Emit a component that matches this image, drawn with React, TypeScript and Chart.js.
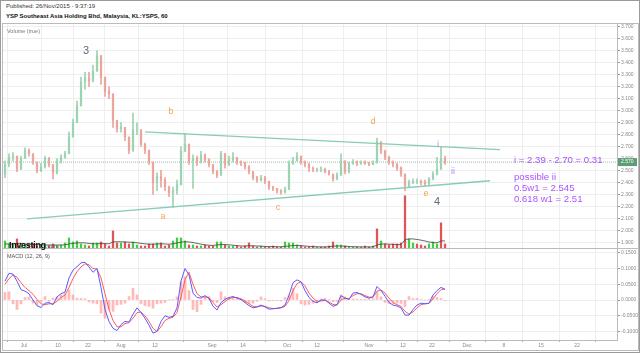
import React, { useEffect, useRef } from "react";
import { Chart, registerables } from "chart.js";
Chart.register(...registerables);

const FONT = "'Liberation Sans', Arial, sans-serif";

// ---- price data (hourly candles, sampled) ----
const firstOpen = 2.47;
const closes = [
  2.55, 2.61, 2.62, 2.51, 2.60, 2.67, 2.64, 2.57, 2.50, 2.53,
  2.60, 2.55, 2.48, 2.58, 2.61, 2.64, 2.78, 2.90, 3.04, 3.24,
  3.27, 3.25, 3.33, 3.46, 3.28, 3.16, 3.14, 2.92, 2.85, 2.86,
  2.78, 2.67, 2.84, 2.84, 2.72, 2.67, 2.57, 2.40, 2.45, 2.42,
  2.36, 2.31, 2.33, 2.38, 2.66, 2.72, 2.58, 2.60, 2.57, 2.63,
  2.59, 2.55, 2.49, 2.46, 2.64, 2.55, 2.59, 2.61, 2.57, 2.56,
  2.53, 2.49, 2.44, 2.42, 2.44, 2.41, 2.36, 2.35, 2.33, 2.32,
  2.34, 2.56, 2.58, 2.62, 2.57, 2.55, 2.52, 2.51, 2.51, 2.51,
  2.49, 2.47, 2.43, 2.46, 2.58, 2.49, 2.56, 2.57, 2.56, 2.57,
  2.56, 2.55, 2.57, 2.74, 2.66, 2.61, 2.57, 2.55, 2.52, 2.47,
  2.37, 2.40, 2.41, 2.41, 2.40, 2.39, 2.43, 2.47, 2.51, 2.60,
  2.57,
];
const highs = [
  2.58, 2.64, 2.65, 2.60, 2.62, 2.69, 2.68, 2.64, 2.57, 2.56,
  2.62, 2.61, 2.55, 2.60, 2.63, 2.66, 2.82, 2.93, 3.08, 3.28,
  3.32, 3.32, 3.38, 3.50, 3.46, 3.28, 3.20, 3.08, 2.92, 2.90,
  2.86, 2.78, 2.98, 2.90, 2.84, 2.73, 2.67, 2.57, 2.48, 2.50,
  2.44, 2.37, 2.36, 2.42, 2.70, 2.81, 2.72, 2.63, 2.62, 2.66,
  2.64, 2.60, 2.55, 2.50, 2.66, 2.64, 2.62, 2.65, 2.61, 2.58,
  2.57, 2.54, 2.49, 2.45, 2.46, 2.45, 2.41, 2.37, 2.35, 2.34,
  2.36, 2.58, 2.61, 2.65, 2.62, 2.58, 2.56, 2.53, 2.52, 2.53,
  2.52, 2.50, 2.47, 2.48, 2.64, 2.58, 2.57, 2.59, 2.58, 2.58,
  2.58, 2.57, 2.58, 2.77, 2.74, 2.67, 2.62, 2.58, 2.56, 2.53,
  2.47, 2.42, 2.43, 2.43, 2.42, 2.42, 2.44, 2.49, 2.61, 2.70,
  2.62,
];
const lows = [
  2.44, 2.53, 2.58, 2.49, 2.52, 2.60, 2.62, 2.55, 2.48, 2.49,
  2.52, 2.53, 2.43, 2.47, 2.56, 2.60, 2.64, 2.78, 2.90, 3.04,
  3.18, 3.20, 3.24, 3.33, 3.22, 3.12, 3.10, 2.86, 2.82, 2.82,
  2.75, 2.64, 2.66, 2.80, 2.70, 2.64, 2.55, 2.30, 2.33, 2.36,
  2.33, 2.28, 2.19, 2.30, 2.38, 2.66, 2.55, 2.35, 2.54, 2.56,
  2.57, 2.53, 2.47, 2.44, 2.46, 2.52, 2.54, 2.57, 2.55, 2.54,
  2.51, 2.47, 2.42, 2.40, 2.41, 2.39, 2.34, 2.33, 2.31, 2.30,
  2.31, 2.34, 2.55, 2.58, 2.55, 2.53, 2.49, 2.49, 2.49, 2.49,
  2.48, 2.46, 2.41, 2.42, 2.46, 2.47, 2.48, 2.55, 2.54, 2.55,
  2.55, 2.54, 2.55, 2.56, 2.64, 2.59, 2.55, 2.53, 2.50, 2.45,
  2.33, 2.36, 2.39, 2.39, 2.38, 2.37, 2.38, 2.42, 2.46, 2.51,
  2.55,
];
const volumes = [
  800, 500, 400, 1000, 300, 400, 300, 500, 300, 400,
  400, 300, 500, 300, 400, 600, 1100, 700, 800, 500,
  400, 300, 600, 600, 700, 500, 300, 1800, 600, 600,
  700, 500, 700, 400, 300, 300, 500, 500, 600, 600,
  300, 400, 800, 1100, 1100, 800, 400, 400, 300, 300,
  400, 300, 300, 700, 700, 400, 300, 300, 300, 200,
  300, 600, 300, 200, 300, 200, 200, 300, 200, 200,
  700, 600, 600, 400, 300, 200, 200, 300, 200, 200,
  200, 300, 700, 400, 400, 300, 200, 200, 200, 200,
  300, 200, 300, 2000, 800, 500, 400, 500, 500, 600,
  5300, 1000, 600, 500, 400, 300, 500, 700, 500, 2600,
  500,
];
// 1 = buying (green) volume, 0 = selling (red) volume
const volumeUp = [
  1, 1, 1, 0, 1, 1, 0, 0, 0, 1,
  1, 0, 0, 1, 1, 1, 1, 1, 1, 1,
  1, 0, 1, 1, 0, 0, 0, 0, 0, 1,
  0, 0, 1, 1, 0, 0, 0, 0, 1, 0,
  0, 0, 1, 1, 1, 1, 0, 1, 0, 1,
  0, 0, 0, 1, 1, 0, 1, 1, 0, 0,
  0, 0, 0, 0, 1, 0, 0, 0, 0, 0,
  1, 1, 1, 1, 0, 0, 0, 0, 1, 0,
  0, 0, 0, 1, 1, 0, 1, 1, 0, 1,
  0, 0, 1, 0, 1, 0, 0, 0, 0, 0,
  0, 1, 1, 0, 0, 0, 1, 1, 1, 0,
  0,
];
const volumeAvg = [
  500, 500, 500, 550, 550, 500, 450, 450, 450, 420,
  400, 400, 400, 400, 400, 420, 500, 560, 600, 620,
  600, 560, 520, 520, 540, 540, 520, 700, 720, 720,
  700, 680, 660, 620, 560, 520, 480, 480, 500, 520,
  500, 480, 520, 600, 680, 720, 700, 640, 560, 480,
  420, 380, 360, 400, 440, 440, 420, 380, 340, 300,
  300, 320, 320, 300, 280, 260, 240, 240, 230, 220,
  260, 300, 340, 360, 340, 300, 260, 240, 220, 210,
  210, 230, 280, 300, 300, 280, 250, 230, 220, 210,
  210, 210, 220, 400, 480, 500, 480, 460, 450, 460,
  900, 1000, 1000, 950, 880, 800, 700, 650, 620, 800,
  800,
];

// ---- MACD (12, 26, 9) ----
const macdLine = [
  0.060, 0.085, 0.082, 0.060, 0.033, 0.028, 0.020, 0.000, -0.018, -0.024,
  -0.010, -0.008, -0.015, 0.010, 0.020, 0.025, 0.070, 0.095, 0.106, 0.118,
  0.120, 0.105, 0.088, 0.100, 0.040, -0.030, -0.068, -0.090, -0.097, -0.078,
  -0.068, -0.070, -0.045, -0.025, -0.040, -0.058, -0.080, -0.105, -0.100, -0.068,
  -0.050, -0.055, -0.052, -0.025, 0.060, 0.100, 0.080, 0.022, 0.008, 0.006,
  0.014, 0.005, -0.020, -0.032, -0.008, 0.002, 0.008, 0.011, 0.006, 0.001,
  -0.008, -0.018, -0.025, -0.022, -0.016, -0.022, -0.029, -0.028, -0.026, -0.024,
  -0.016, 0.015, 0.055, 0.064, 0.058, 0.030, 0.008, -0.004, -0.009, 0.000,
  0.000, -0.010, -0.020, -0.015, 0.014, 0.006, 0.002, 0.022, 0.024, 0.018,
  0.010, 0.006, 0.010, 0.043, 0.030, 0.012, -0.008, -0.016, -0.019, -0.025,
  -0.048, -0.048, -0.030, -0.016, -0.010, -0.012, -0.010, 0.016, 0.030, 0.040,
  0.034,
];
const signalLine = [
  0.050, 0.068, 0.080, 0.072, 0.055, 0.040, 0.030, 0.018, 0.002, -0.012,
  -0.015, -0.012, -0.012, -0.004, 0.008, 0.016, 0.040, 0.068, 0.090, 0.105,
  0.115, 0.112, 0.100, 0.098, 0.070, 0.020, -0.030, -0.065, -0.085, -0.085,
  -0.075, -0.072, -0.058, -0.040, -0.038, -0.050, -0.068, -0.090, -0.100, -0.085,
  -0.065, -0.058, -0.055, -0.040, 0.010, 0.065, 0.088, 0.050, 0.020, 0.010,
  0.010, 0.008, -0.008, -0.022, -0.015, -0.005, 0.004, 0.008, 0.008, 0.004,
  -0.003, -0.012, -0.020, -0.022, -0.019, -0.020, -0.025, -0.027, -0.027, -0.025,
  -0.020, -0.002, 0.030, 0.052, 0.058, 0.045, 0.022, 0.006, -0.004, -0.003,
  -0.001, -0.006, -0.014, -0.016, 0.000, 0.006, 0.004, 0.014, 0.020, 0.020,
  0.014, 0.009, 0.009, 0.028, 0.032, 0.022, 0.006, -0.008, -0.015, -0.020,
  -0.036, -0.045, -0.038, -0.025, -0.015, -0.012, -0.011, 0.004, 0.020, 0.033,
  0.035,
];
const histogram = [
  0.024, 0.026, -0.012, -0.030, -0.012, 0.008, 0.010, -0.010, -0.016, -0.006,
  0.011, -0.004, 0.006, 0.010, 0.016, 0.020, 0.032, 0.016, 0.006, 0.005,
  0.004, -0.006, -0.010, -0.012, -0.042, -0.058, -0.030, -0.036, -0.016, -0.014,
  -0.010, 0.011, 0.037, 0.016, -0.012, -0.018, -0.020, -0.026, -0.012, -0.010,
  -0.008, 0.000, 0.002, 0.010, 0.058, 0.074, 0.030, -0.030, -0.037, -0.014,
  0.008, 0.010, -0.005, -0.008, 0.026, 0.010, 0.006, 0.005, 0.004, 0.002,
  -0.008, -0.010, -0.010, -0.004, 0.010, 0.004, -0.003, -0.002, -0.002, -0.003,
  0.008, 0.016, 0.037, 0.020, -0.012, -0.016, -0.014, -0.010, -0.006, 0.004,
  0.005, 0.002, -0.005, -0.004, 0.016, 0.010, 0.003, 0.004, 0.003, 0.002,
  0.002, 0.004, 0.005, 0.026, 0.010, -0.008, -0.011, -0.011, -0.010, -0.011,
  -0.021, 0.011, 0.005, 0.005, 0.002, 0.000, 0.002, 0.011, 0.008, 0.005,
  -0.002,
];

// ---- axes ----
const xTickPos = [5.25, 13.75, 21.25, 29.5, 38, 52.25, 60, 71, 78.5, 91.5, 100, 107.25, 116, 125.25, 134.5, 143.5];
const xTickLabels = ["Jul", "10", "22", "Aug", "12", "Sep", "14", "Oct", "12", "Nov", "12", "22", "Dec", "8", "15", "22"];
const priceTicks = [1.9, 2.0, 2.1, 2.2, 2.3, 2.4, 2.5, 2.6, 2.7, 2.8, 2.9, 3.0, 3.1, 3.2, 3.3, 3.4, 3.5, 3.6, 3.7];
const macdTicks = [-0.1, -0.05, 0, 0.05, 0.1, 0.15];
const X_MIN = 0;
const X_MAX = 153.5;
const PRICE_MIN = 1.843;
const PRICE_MAX = 3.725;
const MACD_MIN = -0.127;
const MACD_MAX = 0.162;
const VOL_MAX = 22400;
const lastPrice = 2.57;

// ---- drawings ----
const upperTrend = [{ x: 35.5, y: 2.822 }, { x: 124.25, y: 2.675 }];
const lowerTrend = [{ x: 6, y: 2.095 }, { x: 121.75, y: 2.414 }];
const annotations = [
  { text: "3", x: 20.75, y: 3.498, color: "#5d6d7e", size: 11, align: "center" },
  { text: "b", x: 42, y: 2.994, color: "#f3a64e", size: 9, align: "center" },
  { text: "a", x: 40, y: 2.112, color: "#f3a64e", size: 9, align: "center" },
  { text: "c", x: 68.75, y: 2.188, color: "#f3a64e", size: 9, align: "center" },
  { text: "d", x: 92.5, y: 2.91, color: "#f3a64e", size: 9, align: "center" },
  { text: "e", x: 105.75, y: 2.305, color: "#f3a64e", size: 9, align: "center" },
  { text: "4", x: 108.5, y: 2.238, color: "#5d6d7e", size: 11, align: "center" },
  { text: "i", x: 108.75, y: 2.717, color: "#b48cf5", size: 9, align: "center" },
  { text: "ii", x: 112.5, y: 2.49, color: "#b48cf5", size: 9, align: "center" },
  { text: "i = 2.39 - 2.70 = 0.31", x: 127.75, y: 2.582, color: "#aa55ff", size: 9.6, align: "left" },
  { text: "possible ii", x: 127.75, y: 2.439, color: "#aa55ff", size: 9.6, align: "left" },
  { text: "0.5w1 = 2.545", x: 127.75, y: 2.347, color: "#aa55ff", size: 9.6, align: "left" },
  { text: "0.618 w1 = 2.51", x: 127.75, y: 2.255, color: "#aa55ff", size: 9.6, align: "left" },
];

const UP = "#9dd3b1";
const DOWN = "#eaa59d";
const VOL_UP = "#44cc44";
const VOL_DOWN = "#dd5555";

const opens = closes.map((c, i) => (i === 0 ? firstOpen : closes[i - 1]));
const isUp = closes.map((c, i) => c >= opens[i]);
const pos = (i: number) => i + 0.5;

const annotPlugin = {
  id: "annot",
  afterDatasetsDraw(chart: any) {
    const { ctx } = chart;
    const x = chart.scales.x;
    const y = chart.scales.y;
    ctx.save();
    ctx.textBaseline = "middle";
    for (const a of annotations) {
      ctx.font = `${a.size}px ${FONT}`;
      ctx.fillStyle = a.color;
      ctx.textAlign = a.align;
      ctx.fillText(a.text, x.getPixelForValue(a.x), y.getPixelForValue(a.y));
    }
    ctx.restore();
  },
  afterDraw(chart: any) {
    const { ctx, chartArea } = chart;
    const y = chart.scales.y;
    const py = y.getPixelForValue(lastPrice);
    ctx.save();
    ctx.fillStyle = "#5b9e74";
    ctx.fillRect(chartArea.right + 1, py - 4, 19, 8);
    ctx.fillStyle = "#ffffff";
    ctx.font = `5px ${FONT}`;
    ctx.textAlign = "left";
    ctx.textBaseline = "middle";
    ctx.fillText(lastPrice.toFixed(3), chartArea.right + 4, py);
    ctx.restore();
  },
};

function PriceChart() {
  const ref = useRef<HTMLCanvasElement>(null);
  useEffect(() => {
    const chart = new Chart(ref.current as HTMLCanvasElement, {
      type: "bar",
      data: {
        datasets: [
          {
            type: "line",
            data: upperTrend,
            borderColor: "#86cdb3",
            borderWidth: 1.3,
            pointRadius: 0,
            order: 1,
          } as any,
          {
            type: "line",
            data: lowerTrend,
            borderColor: "#86cdb3",
            borderWidth: 1.3,
            pointRadius: 0,
            order: 1,
          } as any,
          {
            type: "line",
            data: [{ x: X_MIN, y: lastPrice }, { x: X_MAX, y: lastPrice }],
            borderColor: "rgba(130,165,145,0.8)",
            borderDash: [1, 1],
            borderWidth: 1,
            pointRadius: 0,
            order: 7,
          } as any,
          {
            type: "bar",
            data: closes.map((c, i) => ({
              x: pos(i),
              y: [Math.min(lows[i], opens[i], c), Math.max(highs[i], opens[i], c)],
            })),
            backgroundColor: isUp.map((u) => (u ? UP : DOWN)),
            barThickness: 1,
            grouped: false,
            order: 3,
          } as any,
          {
            type: "bar",
            data: closes.map((c, i) => ({ x: pos(i), y: [opens[i], c] })),
            backgroundColor: isUp.map((u) => (u ? UP : DOWN)),
            barThickness: 1.6,
            grouped: false,
            order: 2,
          } as any,
          {
            type: "bar",
            yAxisID: "yVol",
            data: volumes.map((v, i) => ({ x: pos(i), y: v })),
            backgroundColor: volumeUp.map((u) => (u ? VOL_UP : VOL_DOWN)),
            barThickness: 1.6,
            grouped: false,
            order: 5,
          } as any,
          {
            type: "line",
            yAxisID: "yVol",
            data: volumeAvg.map((v, i) => ({ x: pos(i), y: v })),
            borderColor: "#444444",
            borderWidth: 0.8,
            pointRadius: 0,
            tension: 0.3,
            order: 4,
          } as any,
        ],
      },
      options: {
        animation: false,
        responsive: false,
        maintainAspectRatio: false,
        layout: { padding: 0 },
        events: [],
        plugins: { legend: { display: false }, tooltip: { enabled: false } },
        scales: {
          x: {
            type: "linear",
            min: X_MIN,
            max: X_MAX,
            offset: false,
            grid: { color: "#eeeeee", drawTicks: false },
            border: { display: false },
            ticks: { display: false },
            afterBuildTicks: (s: any) => {
              s.ticks = xTickPos.map((v) => ({ value: v }));
            },
            afterFit: (s: any) => {
              s.height = 0;
              s.paddingLeft = 0;
              s.paddingRight = 0;
            },
          },
          y: {
            position: "right",
            min: PRICE_MIN,
            max: PRICE_MAX,
            grid: { color: "#eeeeee", tickColor: "#999999", tickLength: 3 },
            border: { color: "#bbbbbb" },
            ticks: {
              font: { size: 5, family: FONT },
              color: "#888888",
              padding: 1,
              callback: (v: any) => Number(v).toFixed(3),
            },
            afterBuildTicks: (s: any) => {
              s.ticks = priceTicks.map((v) => ({ value: v }));
            },
            afterFit: (s: any) => {
              s.width = 21;
              s.paddingTop = 0;
              s.paddingBottom = 0;
            },
          },
          yVol: { display: false, min: 0, max: VOL_MAX },
        },
      } as any,
      plugins: [annotPlugin],
    });
    return () => chart.destroy();
  }, []);
  return <canvas ref={ref} width={635} height={225} style={{ position: "absolute", left: 3, top: 24, width: 635, height: 225 }} />;
}

function MacdChart() {
  const ref = useRef<HTMLCanvasElement>(null);
  useEffect(() => {
    const chart = new Chart(ref.current as HTMLCanvasElement, {
      type: "bar",
      data: {
        datasets: [
          {
            type: "bar",
            data: histogram.map((v, i) => ({ x: pos(i), y: v })),
            backgroundColor: "rgba(255,100,100,0.45)",
            barThickness: 2,
            order: 3,
          } as any,
          {
            type: "line",
            data: signalLine.map((v, i) => ({ x: pos(i), y: v })),
            borderColor: "#ff5a5a",
            borderWidth: 1,
            pointRadius: 0,
            order: 2,
          } as any,
          {
            type: "line",
            data: macdLine.map((v, i) => ({ x: pos(i), y: v })),
            borderColor: "#5a5aff",
            borderWidth: 1,
            pointRadius: 0,
            order: 1,
          } as any,
        ],
      },
      options: {
        animation: false,
        responsive: false,
        maintainAspectRatio: false,
        layout: { padding: 0 },
        events: [],
        plugins: { legend: { display: false }, tooltip: { enabled: false } },
        scales: {
          x: {
            type: "linear",
            min: X_MIN,
            max: X_MAX,
            offset: false,
            grid: { color: "#eeeeee", tickColor: "#aaaaaa", tickLength: 2 },
            border: { color: "#bbbbbb" },
            ticks: {
              font: { size: 5, family: FONT },
              color: "#888888",
              padding: 1,
              maxRotation: 0,
              autoSkip: false,
              callback: (v: any, idx: number) => xTickLabels[idx],
            },
            afterBuildTicks: (s: any) => {
              s.ticks = xTickPos.map((v) => ({ value: v }));
            },
            afterFit: (s: any) => {
              s.height = 9;
              s.paddingLeft = 0;
              s.paddingRight = 0;
            },
          },
          y: {
            position: "right",
            min: MACD_MIN,
            max: MACD_MAX,
            grid: { color: "#eeeeee", tickColor: "#999999", tickLength: 3 },
            border: { color: "#bbbbbb" },
            ticks: {
              font: { size: 5, family: FONT },
              color: "#888888",
              padding: 1,
              callback: (v: any) => Number(v).toFixed(4),
            },
            afterBuildTicks: (s: any) => {
              s.ticks = macdTicks.map((v) => ({ value: v }));
            },
            afterFit: (s: any) => {
              s.width = 21;
              s.paddingTop = 0;
              s.paddingBottom = 0;
            },
          },
        },
      } as any,
    });
    return () => chart.destroy();
  }, []);
  return <canvas ref={ref} width={635} height={100} style={{ position: "absolute", left: 3, top: 249, width: 635, height: 100 }} />;
}

export default function App() {
  return (
    <div
      style={{
        position: "fixed",
        left: 0,
        top: 0,
        width: 640,
        height: 353,
        background: "#ffffff",
        overflow: "hidden",
        fontFamily: FONT,
      }}
    >
      <div style={{ position: "absolute", left: 0, top: 0, width: 640, height: 353, boxSizing: "border-box", border: "1px solid #9a9a9a" }} />
      <div style={{ position: "absolute", left: 6, top: 3, fontSize: 6, color: "#333", whiteSpace: "nowrap" }}>
        Published: 26/Nov/2015 - 9:37:19
      </div>
      <div style={{ position: "absolute", left: 6, top: 13, fontSize: 6, fontWeight: "bold", color: "#111", whiteSpace: "nowrap" }}>
        YSP Southeast Asia Holding Bhd, Malaysia, KL:YSPS, 60
      </div>
      <div style={{ position: "absolute", left: 2, top: 23, width: 637, height: 328, boxSizing: "border-box", border: "1px solid #bbbbbb" }} />
      <PriceChart />
      <MacdChart />
      <div style={{ position: "absolute", left: 3, top: 248, width: 635, height: 1, background: "#bbbbbb" }} />
      <div style={{ position: "absolute", left: 7, top: 28, fontSize: 5.5, color: "#777", whiteSpace: "nowrap" }}>Volume (true)</div>
      <div style={{ position: "absolute", left: 7, top: 253, fontSize: 5.5, color: "#555", whiteSpace: "nowrap" }}>MACD (12, 26, 9)</div>
      <div style={{ position: "absolute", left: 9, top: 238, whiteSpace: "nowrap", lineHeight: "10px" }}>
        <span style={{ fontSize: 9, fontWeight: "bold", color: "#111", letterSpacing: -0.3 }}>Investing</span>
        <span style={{ fontSize: 6, color: "#555" }}>.com</span>
      </div>
    </div>
  );
}
